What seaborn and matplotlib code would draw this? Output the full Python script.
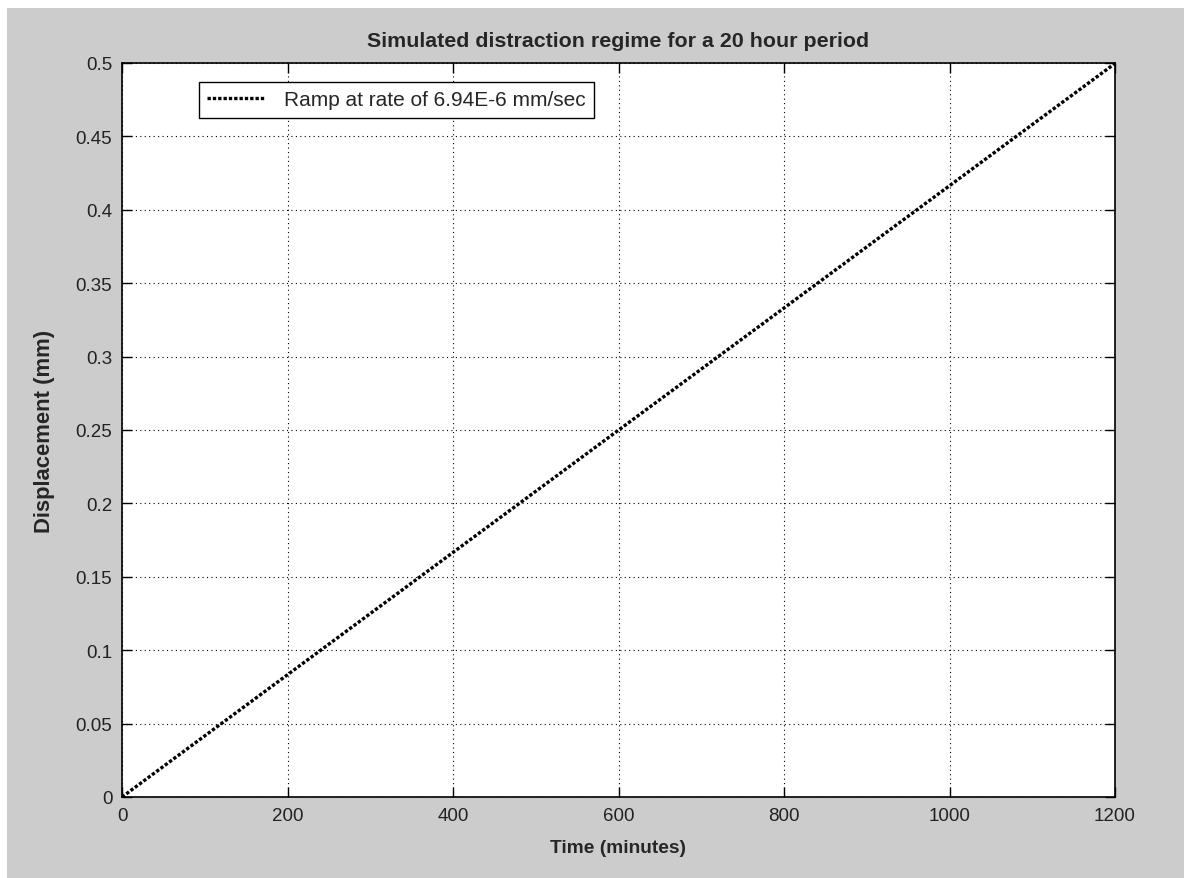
import numpy as np
import pandas as pd
import matplotlib
matplotlib.use("Agg")
import matplotlib.pyplot as plt
import matplotlib.patches as mpatches
import seaborn as sns

# --------------------------------------------------
# Data
# --------------------------------------------------
time_min = [0, 200, 400, 600, 800, 1000, 1200]
displacement_mm = [0.0, 0.0833, 0.1666, 0.2499, 0.3331, 0.4164, 0.4997]
x_ticks = [0, 200, 400, 600, 800, 1000, 1200]
y_ticks = [0, 0.05, 0.1, 0.15, 0.2, 0.25, 0.3, 0.35, 0.4, 0.45, 0.5]
y_tick_labels = ["0", "0.05", "0.1", "0.15", "0.2", "0.25", "0.3", "0.35", "0.4", "0.45", "0.5"]
series_label = "Ramp at rate of 6.94E-6 mm/sec"

df = pd.DataFrame({"Time": time_min, "Displacement": displacement_mm})

# --------------------------------------------------
# Style
# --------------------------------------------------
sns.set_style("ticks")
plt.rcParams["font.family"] = ["Liberation Sans", "DejaVu Sans"]

fig = plt.figure(figsize=(11.84, 8.79), dpi=100, facecolor="white")
# gray MATLAB-like window background, leaving a thin white strip top/left
fig.patches.append(mpatches.Rectangle((7 / 1184, 0), 1, (879 - 9) / 879,
                                      transform=fig.transFigure, facecolor="#cccccc",
                                      edgecolor="none", zorder=-10))

ax = fig.add_axes([122 / 1184, (879 - 798) / 879, (1115 - 122) / 1184, (798 - 64) / 879])
ax.set_facecolor("white")

sns.lineplot(data=df, x="Time", y="Displacement", ax=ax, color="black",
             linewidth=2.4, label=series_label)
ax.lines[0].set_linestyle((0, (1.0, 0.6)))

ax.set_xlim(0, 1200)
ax.set_ylim(0, 0.5)
ax.set_xticks(x_ticks)
ax.set_yticks(y_ticks)
ax.set_yticklabels(y_tick_labels)

ax.grid(True, color="black", linestyle=(0, (1, 3)), linewidth=0.8)
ax.tick_params(direction="in", length=7, width=1, top=True, right=True,
               labelsize=13.5, labelcolor="#222222", color="black", pad=7)
for side in ["left", "right", "top", "bottom"]:
    ax.spines[side].set_visible(True)
    ax.spines[side].set_color("black")
    ax.spines[side].set_linewidth(1.2)

ax.set_title("Simulated distraction regime for a 20 hour period",
             fontsize=15.4, fontweight="bold", pad=12)
ax.set_xlabel("Time (minutes)", fontsize=13.8, fontweight="bold", labelpad=11)
ax.set_ylabel("Displacement (mm)", fontsize=15.8, fontweight="bold", labelpad=15)

leg = ax.legend(loc="upper left", bbox_to_anchor=(0.0775, 0.974), borderaxespad=0,
                fancybox=False, framealpha=1, edgecolor="black", fontsize=15,
                handlelength=2.74, handletextpad=0.96, borderpad=0.4)
leg.get_frame().set_linewidth(1.0)

plt.savefig("out.png", dpi=100, facecolor=fig.get_facecolor())
